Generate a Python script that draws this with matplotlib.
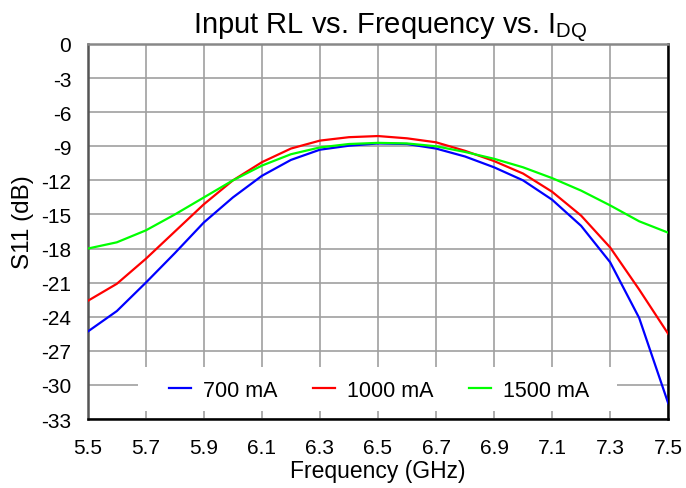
import matplotlib
matplotlib.use("Agg")
import matplotlib.pyplot as plt
from matplotlib.patches import Rectangle

plt.rcParams["font.family"] = ["Liberation Sans", "DejaVu Sans"]
plt.rcParams["axes.unicode_minus"] = False
plt.rcParams["mathtext.fontset"] = "custom"
plt.rcParams["mathtext.rm"] = "Liberation Sans"

freq_ghz = [5.5, 5.6, 5.7, 5.8, 5.9, 6.0, 6.1, 6.2, 6.3, 6.4, 6.5,
            6.6, 6.7, 6.8, 6.9, 7.0, 7.1, 7.2, 7.3, 7.4, 7.5]

s11_700ma = [-25.3, -23.5, -21.0, -18.4, -15.7, -13.5, -11.6, -10.2, -9.3, -8.95, -8.75,
             -8.8, -9.2, -9.9, -10.85, -12.0, -13.7, -16.0, -19.2, -24.1, -31.6]
s11_1000ma = [-22.6, -21.1, -18.9, -16.5, -14.1, -12.0, -10.4, -9.2, -8.5, -8.2, -8.1,
              -8.3, -8.65, -9.4, -10.3, -11.4, -13.0, -15.1, -17.9, -21.6, -25.5]
s11_1500ma = [-18.0, -17.45, -16.4, -15.0, -13.5, -12.0, -10.7, -9.7, -9.1, -8.8, -8.7,
              -8.75, -9.0, -9.5, -10.1, -10.85, -11.8, -12.9, -14.2, -15.6, -16.6]

labels = ["700 mA", "1000 mA", "1500 mA"]
colors = ["#0000ff", "#ff0000", "#00ff00"]

x_ticks = [5.5, 5.7, 5.9, 6.1, 6.3, 6.5, 6.7, 6.9, 7.1, 7.3, 7.5]
y_ticks = list(range(0, -34, -3))

fig = plt.figure(figsize=(6.86, 4.89), dpi=100)
ax = fig.add_axes([0.128, 0.141, 0.846, 0.767])

for series, label, color in zip([s11_700ma, s11_1000ma, s11_1500ma], labels, colors):
    ax.plot(freq_ghz, series, color=color, linewidth=1.6, label=label, zorder=3)

ax.set_xlim(5.5, 7.5)
ax.set_ylim(-33, 0)
ax.set_xticks(x_ticks)
ax.set_xticklabels([f"{t:.1f}" for t in x_ticks])
ax.set_yticks(y_ticks)
ax.tick_params(length=0, labelsize=15)
ax.tick_params(axis="x", pad=14)
ax.tick_params(axis="y", pad=12)
ax.grid(True, color="#a0a0a0", linewidth=1.2)
ax.set_axisbelow(True)

ax.spines["left"].set_color("#555555")
ax.spines["bottom"].set_color("#000000")
ax.spines["top"].set_color("#888888")
ax.spines["right"].set_color("#000000")
for side in ax.spines:
    ax.spines[side].set_linewidth(1.8)

ax.set_xlabel("Frequency (GHz)", fontsize=16.5, labelpad=1)
ax.set_ylabel("S11 (dB)", fontsize=17.5, labelpad=5, y=0.528)
ax.set_title("Input RL vs. Frequency vs. I$_{\\mathregular{DQ}}$", fontsize=21, pad=5, x=0.521)

# white band behind the legend, hiding the grid
ax.add_patch(Rectangle((0.086, 0.021), 0.826, 0.118, transform=ax.transAxes,
                       facecolor="white", edgecolor="none", zorder=1.5))
ax.legend(loc="center", bbox_to_anchor=(0.502, 0.077), ncol=3, frameon=False,
          fontsize=15.5, handlelength=1.02, handletextpad=0.56, columnspacing=1.63,
          borderpad=0.0)

fig.savefig("out.png", dpi=100)
